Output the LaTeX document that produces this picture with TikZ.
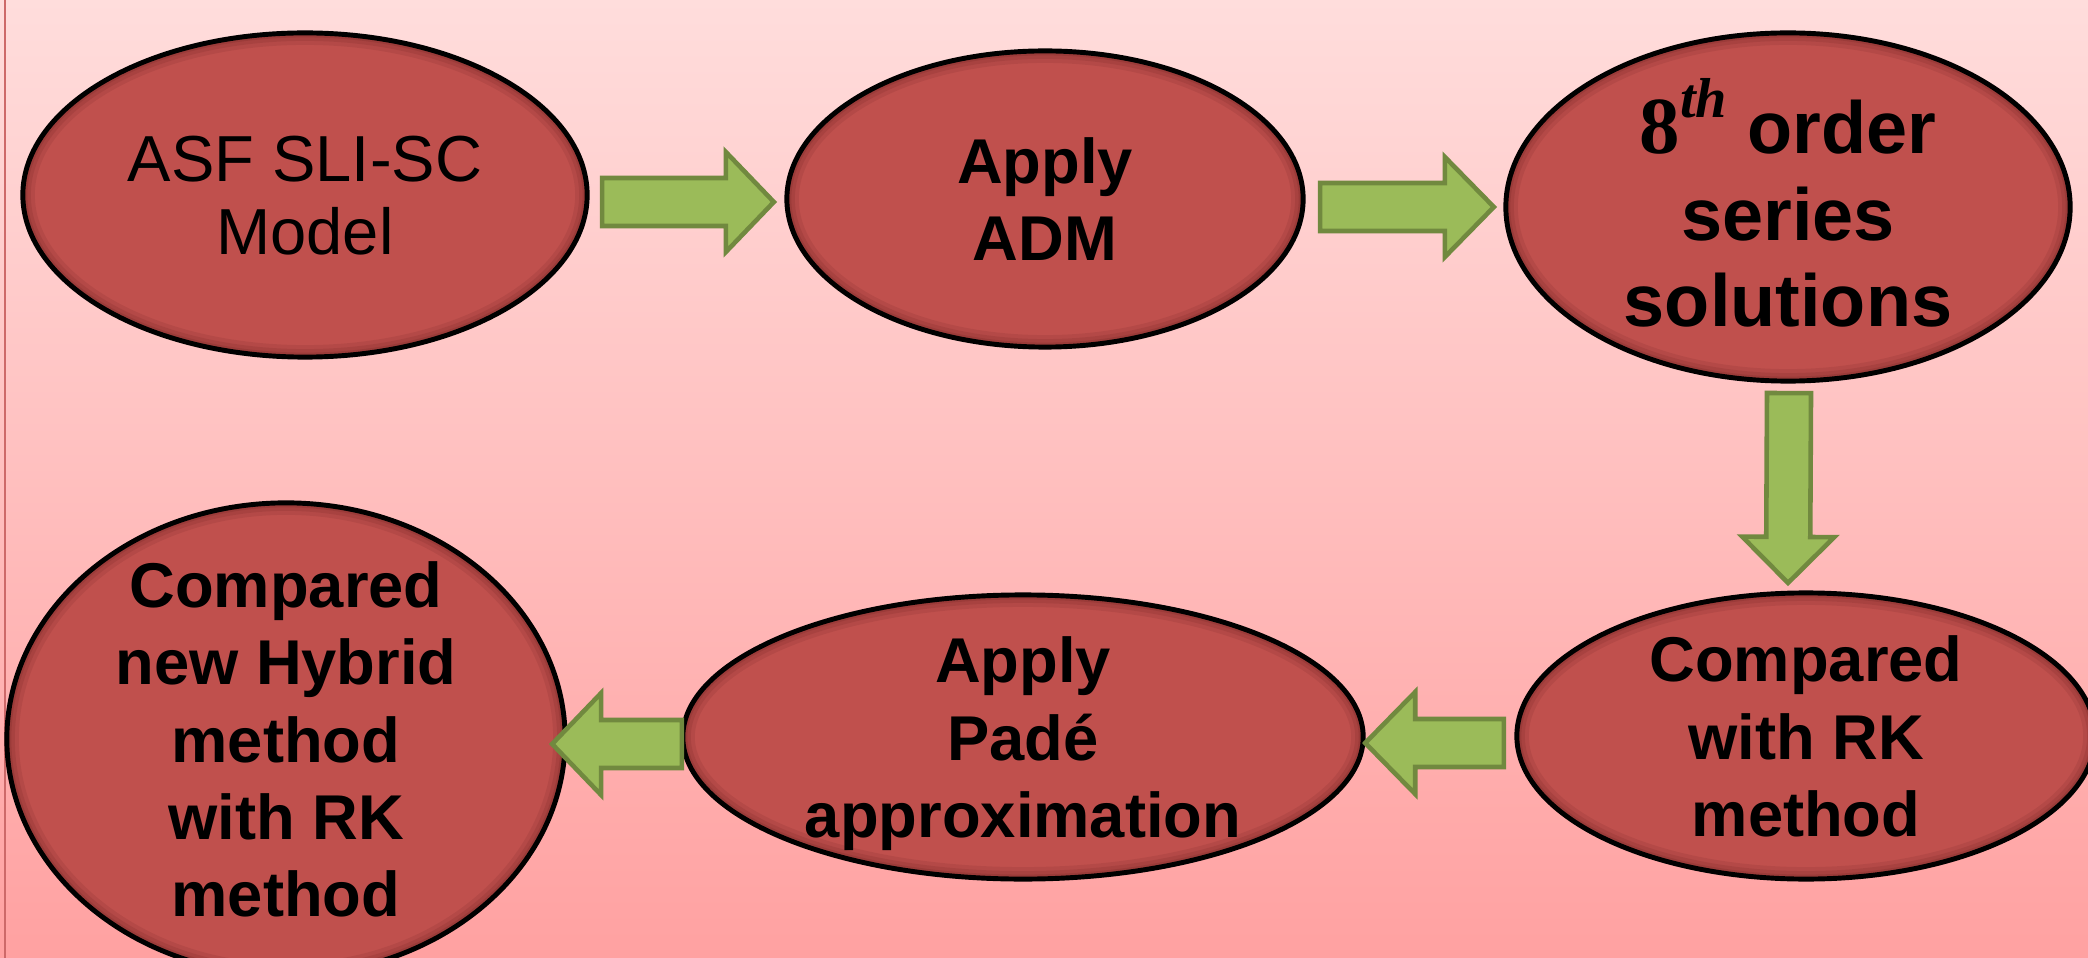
\documentclass[tikz,border=0pt]{standalone}
\usepackage[no-math]{fontspec}
\setmainfont{Liberation Sans}
\newfontfamily\serifbold{Liberation Serif}
\usetikzlibrary{shapes.geometric,calc}
\definecolor{ellred}{RGB}{192,80,77}
\definecolor{shadowred}{RGB}{100,30,28}
\definecolor{arrgreen}{RGB}{155,187,89}
\definecolor{arredge}{RGB}{113,137,63}
\definecolor{bgtop}{RGB}{255,221,220}
\definecolor{bgbot}{RGB}{255,161,161}
\definecolor{frameline}{RGB}{205,105,105}
\newcommand\ntext[1]{\raisebox{-0.36em}[0pt][0pt]{\makebox[0pt]{\begin{tabular}{@{}c@{}}#1\end{tabular}}}}
\newcommand\blockarrow[5]{%
  \path #1 coordinate (ba-s) #2 coordinate (ba-e);
  \path ($(ba-e)!#5!(ba-s)$) coordinate (ba-h);
  \draw[arrowsty] ($(ba-s)!#3!-90:(ba-e)$) -- ($(ba-h)!#3!-90:(ba-e)$) -- ($(ba-h)!#4!-90:(ba-e)$) -- (ba-e) -- ($(ba-h)!#4!90:(ba-e)$) -- ($(ba-h)!#3!90:(ba-e)$) -- ($(ba-s)!#3!90:(ba-e)$) -- cycle;}
\begin{document}
\begin{tikzpicture}[x=0.01cm,y=-0.01cm,
  ell/.style={ellipse, draw=black, line width=1.4pt, fill=ellred, inner sep=0pt, outer sep=0pt,
    font=\fontsize{18}{22}\selectfont\bfseries,
    path picture={
      \foreach \w/\o in {0.24cm/0.12, 0.16cm/0.14, 0.09cm/0.18}{
      \draw[shadowred, opacity=\o, line width=\w]
      let \p1=($(path picture bounding box.north east)-(path picture bounding box.center)$) in
      (path picture bounding box.center) ellipse [x radius=\x1, y radius=\y1];}}},
  regtxt/.style={font=\fontsize{18.5}{21}\selectfont},
  bigtxt/.style={font=\fontsize{21}{24.6}\selectfont\bfseries},
  arrowsty/.style={fill=arrgreen, draw=arredge, line width=1.3pt, line join=miter}
]
\useasboundingbox (0,0) rectangle (2088,958);
\clip (0,0) rectangle (2088,958);
\shade[top color=bgtop, bottom color=bgbot] (0,0) rectangle (2088,958);
\draw[frameline, line width=0.6pt] (5,0) -- (5,958);

\node[ell, regtxt, minimum width=5.64cm, minimum height=3.24cm] (E1) at (305,195) {\ntext{ASF SLI-SC\\Model}};
\node[ell, minimum width=5.16cm, minimum height=2.96cm] (E2) at (1045,199) {\ntext{Apply\\ADM}};
\node[ell, bigtxt, minimum width=5.64cm, minimum height=3.48cm] (E3) at (1788,207) {\raisebox{0pt}[0pt][0pt]{\ntext{{\serifbold\bfseries\fontsize{23}{24.6}\selectfont 8\raisebox{0.45em}{\fontsize{16}{16}\selectfont\itshape th}} order\\series\\solutions}}};
\node[ell, minimum width=5.78cm, minimum height=2.86cm] (E4) at (1806,736) {\ntext{Compared\\with RK\\method}};
\node[ell, minimum width=6.80cm, minimum height=2.84cm] (E5) at (1023,737) {\ntext{Apply\\Padé\\approximation}};
\node[ell, minimum width=5.58cm, minimum height=4.72cm] (E6) at (286,739) {\ntext{Compared\\new Hybrid\\method\\with RK\\method}};

\blockarrow{($(E1.east)+(15,7)$)}{($(E2.west)+(-13,3)$)}{0.24cm}{0.50cm}{0.48cm}
\blockarrow{($(E2.east)+(17,8)$)}{($(E3.west)+(-12,0)$)}{0.24cm}{0.50cm}{0.49cm}
\blockarrow{($(E3.south)+(1,12)$)}{($(E4.north)+(-18,-10)$)}{0.22cm}{0.46cm}{0.46cm}
\blockarrow{($(E4.west)+(-13,7)$)}{($(E5.east)+(2,6)$)}{0.24cm}{0.51cm}{0.50cm}
\blockarrow{($(E5.west)+(-1,7)$)}{($(E6.east)+(-13,5)$)}{0.24cm}{0.51cm}{0.49cm}
\end{tikzpicture}
\end{document}
